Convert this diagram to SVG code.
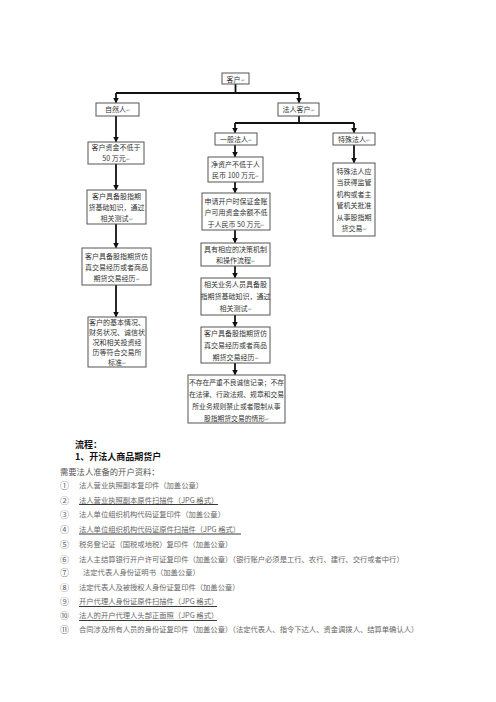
<svg xmlns="http://www.w3.org/2000/svg" width="496" height="702" viewBox="0 0 496 702">
<style>
  .box{fill:#fff;stroke:#555;stroke-width:1}
  .bt{font-family:"Noto Sans CJK SC","Liberation Sans",sans-serif;font-size:7px;fill:#333;text-anchor:middle}
  .pm{fill:#999;font-size:5px}
  .cn{fill:none;stroke:#111;stroke-width:1.8}
  .h{font-family:"Noto Sans CJK SC","Liberation Sans",sans-serif;font-weight:bold;font-size:9px;fill:#111}
  .p{font-family:"Noto Sans CJK SC","Liberation Sans",sans-serif;font-size:8.3px;fill:#555}
  .li{font-family:"Noto Sans CJK SC","Liberation Sans",sans-serif;font-size:7.3px;fill:#666}
  .num{font-family:"Noto Sans CJK SC","DejaVu Sans",sans-serif;font-size:9px;fill:#666}
  .ul{stroke:#222;stroke-width:0.9}
</style>
<defs>
  <marker id="ah" markerWidth="6" markerHeight="6" refX="5" refY="3" orient="auto" markerUnits="userSpaceOnUse">
    <path d="M0,0 L6,3 L0,6 Z" fill="#111"/>
  </marker>
</defs>
<rect width="496" height="702" fill="#fff"/>

<g id="connectors">
  <path class="cn" d="M235.5,84 V93 M116,93 H299"/>
  <path class="cn" d="M116,93 V102.5" marker-end="url(#ah)"/>
  <path class="cn" d="M299,93 V102.5" marker-end="url(#ah)"/>
  <path class="cn" d="M116,116 V141.5" marker-end="url(#ah)"/>
  <path class="cn" d="M116,164 V189.5" marker-end="url(#ah)"/>
  <path class="cn" d="M116,224 V247.5" marker-end="url(#ah)"/>
  <path class="cn" d="M116,285 V316.5" marker-end="url(#ah)"/>
  <path class="cn" d="M299,116 V123 M235,123 H354"/>
  <path class="cn" d="M235,123 V132.5" marker-end="url(#ah)"/>
  <path class="cn" d="M354,123 V132.5" marker-end="url(#ah)"/>
  <path class="cn" d="M235,145 V156.5" marker-end="url(#ah)"/>
  <path class="cn" d="M235,182 V192.5" marker-end="url(#ah)"/>
  <path class="cn" d="M235,230 V242.5" marker-end="url(#ah)"/>
  <path class="cn" d="M235,266 V277.5" marker-end="url(#ah)"/>
  <path class="cn" d="M235,315 V326.5" marker-end="url(#ah)"/>
  <path class="cn" d="M235,363 V374.5" marker-end="url(#ah)"/>
  <path class="cn" d="M354,145 V162.5" marker-end="url(#ah)"/>
</g>

<g id="n-kehu">
  <rect class="box" x="222" y="73" width="27" height="11"/>
  <text class="bt" x="235.5" y="81.5">客户<tspan class="pm">↵</tspan></text>
</g>
<g id="n-ziranren">
  <rect class="box" x="96" y="103" width="43" height="13"/>
  <text class="bt" x="117.5" y="112">自然人<tspan class="pm">↵</tspan></text>
</g>
<g id="n-farenkehu">
  <rect class="box" x="278" y="103" width="41" height="13"/>
  <text class="bt" x="298.5" y="112">法人客户<tspan class="pm">↵</tspan></text>
</g>
<g id="n-yibanfaren">
  <rect class="box" x="215" y="133" width="42" height="12"/>
  <text class="bt" x="236" y="141.5">一般法人<tspan class="pm">↵</tspan></text>
</g>
<g id="n-teshufaren">
  <rect class="box" x="333" y="133" width="42" height="12"/>
  <text class="bt" x="354" y="141.5">特殊法人<tspan class="pm">↵</tspan></text>
</g>

<g id="n-a1">
  <rect class="box" x="88" y="142" width="56" height="22"/>
  <text class="bt" x="116" y="150">客户资金不低于</text>
  <text class="bt" x="116" y="161">50 万元<tspan class="pm">↵</tspan></text>
</g>
<g id="n-a2">
  <rect class="box" x="87" y="190" width="59" height="34"/>
  <text class="bt" x="116.5" y="198.5">客户具备股指期</text>
  <text class="bt" x="116.5" y="209.5">货基础知识，通过</text>
  <text class="bt" x="116.5" y="220.5">相关测试<tspan class="pm">↵</tspan></text>
</g>
<g id="n-a3">
  <rect class="box" x="82" y="248" width="69" height="37"/>
  <text class="bt" x="116.5" y="258.5">客户具备股指期货仿</text>
  <text class="bt" x="116.5" y="269.5">真交易经历或者商品</text>
  <text class="bt" x="116.5" y="280.5">期货交易经历<tspan class="pm">↵</tspan></text>
</g>
<g id="n-a4">
  <rect class="box" x="88" y="317" width="58" height="50"/>
  <text class="bt" x="117" y="324.5">客户的基本情况、</text>
  <text class="bt" x="117" y="334.5">财务状况、诚信状</text>
  <text class="bt" x="117" y="344.5">况和相关投资经</text>
  <text class="bt" x="117" y="354.5">历等符合交易所</text>
  <text class="bt" x="117" y="364.5">标准<tspan class="pm">↵</tspan></text>
</g>

<g id="n-b1">
  <rect class="box" x="208" y="157" width="55" height="25"/>
  <text class="bt" x="235.5" y="166.5">净资产不低于人</text>
  <text class="bt" x="235.5" y="178">民币 100 万元<tspan class="pm">↵</tspan></text>
</g>
<g id="n-b2">
  <rect class="box" x="202" y="193" width="68" height="37"/>
  <text class="bt" x="236" y="203.5">申请开户时保证金账</text>
  <text class="bt" x="236" y="215">户可用资金余额不低</text>
  <text class="bt" x="236" y="226.5">于人民币 50 万元<tspan class="pm">↵</tspan></text>
</g>
<g id="n-b3">
  <rect class="box" x="201" y="243" width="69" height="23"/>
  <text class="bt" x="235.5" y="251.5">具有相应的决策机制</text>
  <text class="bt" x="235.5" y="263">和操作流程<tspan class="pm">↵</tspan></text>
</g>
<g id="n-b4">
  <rect class="box" x="201" y="278" width="69" height="37"/>
  <text class="bt" x="235.5" y="287">相关业务人员具备股</text>
  <text class="bt" x="235.5" y="299">指期货基础知识，通过</text>
  <text class="bt" x="235.5" y="311">相关测试<tspan class="pm">↵</tspan></text>
</g>
<g id="n-b5">
  <rect class="box" x="201" y="327" width="69" height="36"/>
  <text class="bt" x="235.5" y="335.5">客户具备股指期货仿</text>
  <text class="bt" x="235.5" y="347.5">真交易经历或者商品</text>
  <text class="bt" x="235.5" y="359.5">期货交易经历<tspan class="pm">↵</tspan></text>
</g>
<g id="n-b6">
  <rect class="box" x="188" y="375" width="97" height="48"/>
  <text class="bt" x="236.5" y="384.5" style="font-size:6.8px">不存在严重不良诚信记录；不存</text>
  <text class="bt" x="236.5" y="396.5" style="font-size:6.8px">在法律、行政法规、规章和交易</text>
  <text class="bt" x="236.5" y="408.5" style="font-size:6.8px">所业务规则禁止或者限制从事</text>
  <text class="bt" x="236.5" y="420.5" style="font-size:6.8px">股指期货交易的情形<tspan class="pm">↵</tspan></text>
</g>
<g id="n-c1">
  <rect class="box" x="333" y="163" width="42" height="73"/>
  <text class="bt" x="354" y="173.5">特殊法人应</text>
  <text class="bt" x="354" y="185">当获得监管</text>
  <text class="bt" x="354" y="196.5">机构或者主</text>
  <text class="bt" x="354" y="208">管机关批准</text>
  <text class="bt" x="354" y="219.5">从事股指期</text>
  <text class="bt" x="354" y="231">货交易<tspan class="pm">↵</tspan></text>
</g>

<g id="doc-text">
  <text class="h" x="75" y="448">流程：</text>
  <text class="h" x="75" y="460">1、开法人商品期货户</text>
  <text class="p" x="60" y="475">需要法人准备的开户资料：</text>

  <text class="num" x="60" y="488.5">①</text>
  <text class="li" x="79" y="487.5">法人营业执照副本复印件（加盖公章）</text>
  <text class="num" x="60" y="503.5">②</text>
  <text class="li" x="79" y="502.5">法人营业执照副本原件扫描件（JPG 格式）</text>
  <line class="ul" x1="79" y1="504.5" x2="218" y2="504.5"/>
  <text class="num" x="60" y="518">③</text>
  <text class="li" x="79" y="517">法人单位组织机构代码证复印件（加盖公章）</text>
  <text class="num" x="60" y="532.5">④</text>
  <text class="li" x="79" y="531.5">法人单位组织机构代码证原件扫描件（JPG 格式）</text>
  <line class="ul" x1="79" y1="534" x2="241" y2="534"/>
  <text class="num" x="60" y="547.5">⑤</text>
  <text class="li" x="79" y="546.5">税务登记证（国税或地税）复印件（加盖公章）</text>
  <text class="num" x="60" y="562.5">⑥</text>
  <text class="li" x="79" y="561.5">法人主结算银行开户许可证复印件（加盖公章）（银行账户必须是工行、农行、建行、交行或者中行）</text>
  <text class="num" x="60" y="576">⑦</text>
  <text class="li" x="83" y="575">法定代表人身份证明书（加盖公章）</text>
  <text class="num" x="60" y="590.5">⑧</text>
  <text class="li" x="79" y="589.5">法定代表人及被授权人身份证复印件（加盖公章）</text>
  <text class="num" x="60" y="605">⑨</text>
  <text class="li" x="79" y="604">开户代理人身份证原件扫描件（JPG 格式）</text>
  <line class="ul" x1="79" y1="606.5" x2="217" y2="606.5"/>
  <text class="num" x="60" y="619">⑩</text>
  <text class="li" x="79" y="618">法人的开户代理人头部正面照（JPG 格式）</text>
  <line class="ul" x1="79" y1="620.5" x2="217" y2="620.5"/>
  <text class="num" x="60" y="633">⑪</text>
  <text class="li" x="79" y="632">合同涉及所有人员的身份证复印件（加盖公章）（法定代表人、指令下达人、资金调拨人、结算单确认人）</text>
</g>
</svg>
